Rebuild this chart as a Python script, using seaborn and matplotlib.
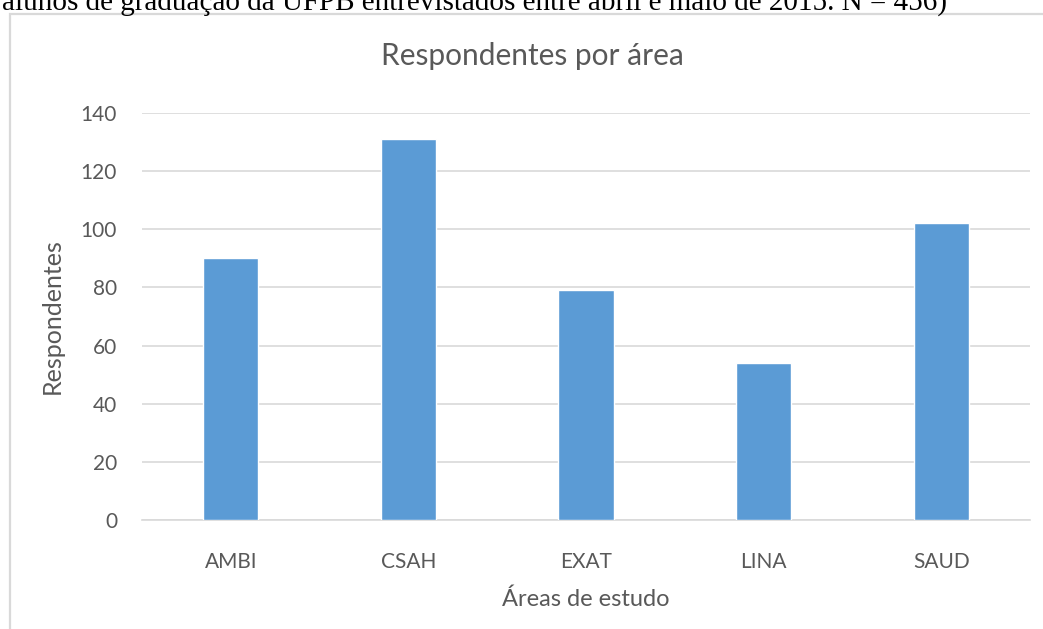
import matplotlib
matplotlib.use("Agg")
import matplotlib.pyplot as plt
import seaborn as sns
import pandas as pd
from matplotlib.patches import Rectangle

categories = ["AMBI", "CSAH", "EXAT", "LINA", "SAUD"]
values = [90, 131, 79, 54, 102]
yticks = [0, 20, 40, 60, 80, 100, 120, 140]

sns.set_theme(style="white")
plt.rcParams['font.family'] = ['Lato', 'DejaVu Sans']

df = pd.DataFrame({"area": categories, "resp": values})

fig = plt.figure(figsize=(10.43, 6.29), dpi=100)
W, H = 1043, 629
ax = fig.add_axes([142 / W, 1 - 520 / H, (1030 - 142) / W, (520 - 113) / H])

# chart frame
fig.patches.append(Rectangle((10 / W, -0.05), 1.1, 1 - 14 / H + 0.05, transform=fig.transFigure,
                             fill=False, edgecolor="#d9d9d9", linewidth=1.6))

sns.barplot(data=df, x="area", y="resp", color="#5b9bd5", saturation=1, width=0.31, ax=ax, zorder=3)

ax.set_ylim(0, 140)
ax.set_yticks(yticks)
ax.yaxis.grid(True, color="#d9d9d9", linewidth=1.2, zorder=0)
ax.set_axisbelow(True)
for s in ["top", "right", "left"]:
    ax.spines[s].set_visible(False)
ax.spines["bottom"].set_color("#d9d9d9")
ax.spines["bottom"].set_linewidth(1.2)
ax.tick_params(axis="both", length=0, labelsize=15, labelcolor="#595959")
ax.tick_params(axis="y", pad=18)
ax.tick_params(axis="x", pad=23)
ax.set_xlabel("Áreas de estudo", fontsize=17, color="#595959", labelpad=12)
ax.set_ylabel("Respondentes", fontsize=18, color="#595959", labelpad=12)

fig.text(532 / W, 1 - 65 / H, "Respondentes por área", fontsize=21.5, color="#595959",
         ha="center", va="baseline")

fig.text(2 / W, 1 - 10 / H, "alunos de graduação da UFPB entrevistados entre abril e maio de 2015. N = 456)",
         family="Liberation Serif", fontsize=21, color="black", ha="left", va="baseline")

fig.savefig("out.png", dpi=100)
